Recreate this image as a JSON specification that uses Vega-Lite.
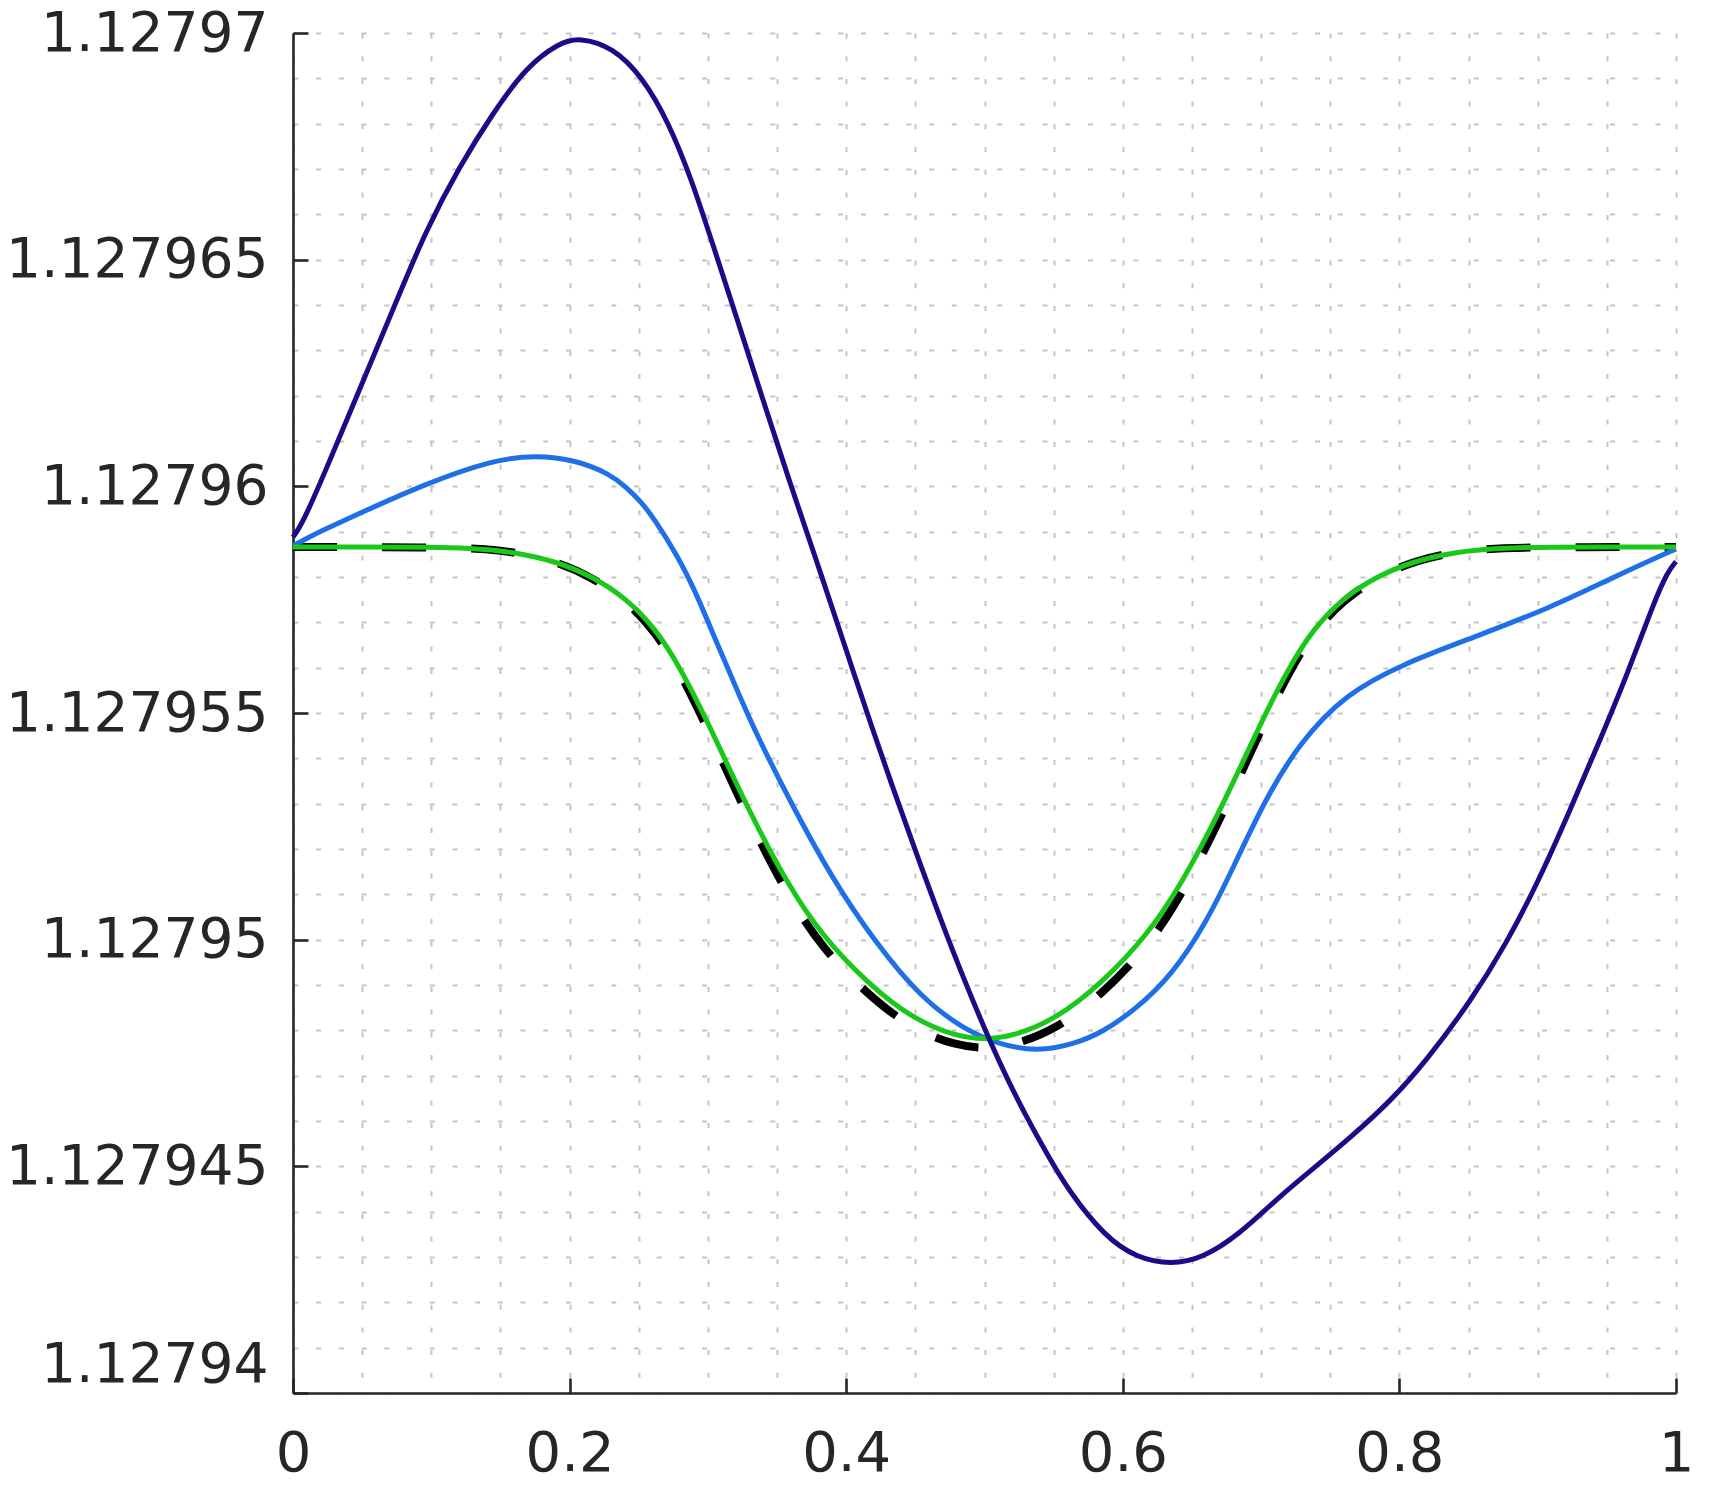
{
  "$schema": "https://vega.github.io/schema/vega-lite/v6.json",
  "width": 1383,
  "height": 1360,
  "autosize": {"type": "none"},
  "padding": {"left": 293, "top": 33, "right": 34, "bottom": 101},
  "background": "white",
  "config": {
    "view": {"stroke": null},
    "font": "DejaVu Sans"
  },
  "data": {
    "values": [
      {"series": "s1", "x": 0, "y": 1.12795888},
      {"series": "s1", "x": 0.0069, "y": 1.12795918},
      {"series": "s1", "x": 0.0238, "y": 1.12796036},
      {"series": "s1", "x": 0.0479, "y": 1.12796212},
      {"series": "s1", "x": 0.072, "y": 1.12796388},
      {"series": "s1", "x": 0.0961, "y": 1.12796565},
      {"series": "s1", "x": 0.1202, "y": 1.12796705},
      {"series": "s1", "x": 0.1443, "y": 1.12796822},
      {"series": "s1", "x": 0.1684, "y": 1.12796925},
      {"series": "s1", "x": 0.1928, "y": 1.12796979},
      {"series": "s1", "x": 0.207, "y": 1.1279699},
      {"series": "s1", "x": 0.2311, "y": 1.12796969},
      {"series": "s1", "x": 0.2528, "y": 1.12796903},
      {"series": "s1", "x": 0.2721, "y": 1.127968},
      {"series": "s1", "x": 0.289, "y": 1.1279667},
      {"series": "s1", "x": 0.3034, "y": 1.12796535},
      {"series": "s1", "x": 0.321, "y": 1.1279637},
      {"series": "s1", "x": 0.34, "y": 1.12796189},
      {"series": "s1", "x": 0.359, "y": 1.1279601},
      {"series": "s1", "x": 0.379, "y": 1.12795832},
      {"series": "s1", "x": 0.3977, "y": 1.1279566},
      {"series": "s1", "x": 0.4193, "y": 1.12795461},
      {"series": "s1", "x": 0.4363, "y": 1.12795313},
      {"series": "s1", "x": 0.4555, "y": 1.1279515},
      {"series": "s1", "x": 0.4748, "y": 1.12794992},
      {"series": "s1", "x": 0.4917, "y": 1.12794864},
      {"series": "s1", "x": 0.5037, "y": 1.12794778},
      {"series": "s1", "x": 0.5158, "y": 1.12794697},
      {"series": "s1", "x": 0.5303, "y": 1.12794609},
      {"series": "s1", "x": 0.545, "y": 1.12794528},
      {"series": "s1", "x": 0.561, "y": 1.12794445},
      {"series": "s1", "x": 0.587, "y": 1.12794345},
      {"series": "s1", "x": 0.61, "y": 1.12794298},
      {"series": "s1", "x": 0.635, "y": 1.12794283},
      {"series": "s1", "x": 0.658, "y": 1.12794298},
      {"series": "s1", "x": 0.684, "y": 1.12794349},
      {"series": "s1", "x": 0.713, "y": 1.12794433},
      {"series": "s1", "x": 0.742, "y": 1.12794506},
      {"series": "s1", "x": 0.764, "y": 1.12794562},
      {"series": "s1", "x": 0.794, "y": 1.12794645},
      {"series": "s1", "x": 0.819, "y": 1.12794731},
      {"series": "s1", "x": 0.852, "y": 1.12794866},
      {"series": "s1", "x": 0.877, "y": 1.1279499},
      {"series": "s1", "x": 0.9, "y": 1.12795125},
      {"series": "s1", "x": 0.923, "y": 1.12795283},
      {"series": "s1", "x": 0.945, "y": 1.1279544},
      {"series": "s1", "x": 0.965, "y": 1.12795587},
      {"series": "s1", "x": 0.984, "y": 1.12795744},
      {"series": "s1", "x": 0.994, "y": 1.12795812},
      {"series": "s1", "x": 1.0, "y": 1.12795834},

      {"series": "s2", "x": 0, "y": 1.12795869},
      {"series": "s2", "x": 0.0105, "y": 1.12795886},
      {"series": "s2", "x": 0.0214, "y": 1.12795903},
      {"series": "s2", "x": 0.0479, "y": 1.1279594},
      {"series": "s2", "x": 0.0961, "y": 1.12796006},
      {"series": "s2", "x": 0.1443, "y": 1.12796058},
      {"series": "s2", "x": 0.1757, "y": 1.12796069},
      {"series": "s2", "x": 0.2046, "y": 1.12796058},
      {"series": "s2", "x": 0.2287, "y": 1.12796028},
      {"series": "s2", "x": 0.241, "y": 1.12795998},
      {"series": "s2", "x": 0.2528, "y": 1.12795962},
      {"series": "s2", "x": 0.2602, "y": 1.12795932},
      {"series": "s2", "x": 0.2772, "y": 1.12795852},
      {"series": "s2", "x": 0.2916, "y": 1.12795764},
      {"series": "s2", "x": 0.3036, "y": 1.12795675},
      {"series": "s2", "x": 0.3181, "y": 1.12795572},
      {"series": "s2", "x": 0.3326, "y": 1.12795469},
      {"series": "s2", "x": 0.357, "y": 1.12795319},
      {"series": "s2", "x": 0.39, "y": 1.12795133},
      {"series": "s2", "x": 0.422, "y": 1.1279499},
      {"series": "s2", "x": 0.454, "y": 1.12794872},
      {"series": "s2", "x": 0.486, "y": 1.127948},
      {"series": "s2", "x": 0.512, "y": 1.12794768},
      {"series": "s2", "x": 0.538, "y": 1.12794753},
      {"series": "s2", "x": 0.565, "y": 1.1279477},
      {"series": "s2", "x": 0.585, "y": 1.12794795},
      {"series": "s2", "x": 0.61, "y": 1.12794848},
      {"series": "s2", "x": 0.635, "y": 1.1279492},
      {"series": "s2", "x": 0.66, "y": 1.12795035},
      {"series": "s2", "x": 0.68, "y": 1.1279516},
      {"series": "s2", "x": 0.703, "y": 1.1279531},
      {"series": "s2", "x": 0.728, "y": 1.12795435},
      {"series": "s2", "x": 0.761, "y": 1.12795542},
      {"series": "s2", "x": 0.803, "y": 1.12795609},
      {"series": "s2", "x": 0.852, "y": 1.12795665},
      {"series": "s2", "x": 0.91, "y": 1.12795733},
      {"series": "s2", "x": 0.955, "y": 1.127958},
      {"series": "s2", "x": 1.0, "y": 1.12795862},

      {"series": "s3", "x": 0, "y": 1.12795866},
      {"series": "s3", "x": 0.05, "y": 1.12795866},
      {"series": "s3", "x": 0.1, "y": 1.12795866},
      {"series": "s3", "x": 0.127, "y": 1.12795864},
      {"series": "s3", "x": 0.159, "y": 1.12795856},
      {"series": "s3", "x": 0.191, "y": 1.12795834},
      {"series": "s3", "x": 0.217, "y": 1.127958},
      {"series": "s3", "x": 0.24, "y": 1.12795755},
      {"series": "s3", "x": 0.262, "y": 1.12795687},
      {"series": "s3", "x": 0.28, "y": 1.127956},
      {"series": "s3", "x": 0.3, "y": 1.1279548},
      {"series": "s3", "x": 0.328, "y": 1.12795294},
      {"series": "s3", "x": 0.357, "y": 1.12795125},
      {"series": "s3", "x": 0.383, "y": 1.12795007},
      {"series": "s3", "x": 0.415, "y": 1.12794905},
      {"series": "s3", "x": 0.448, "y": 1.12794825},
      {"series": "s3", "x": 0.48, "y": 1.12794786},
      {"series": "s3", "x": 0.5, "y": 1.1279478},
      {"series": "s3", "x": 0.52, "y": 1.12794786},
      {"series": "s3", "x": 0.552, "y": 1.12794825},
      {"series": "s3", "x": 0.585, "y": 1.12794905},
      {"series": "s3", "x": 0.617, "y": 1.12795007},
      {"series": "s3", "x": 0.643, "y": 1.12795125},
      {"series": "s3", "x": 0.672, "y": 1.12795294},
      {"series": "s3", "x": 0.7, "y": 1.1279548},
      {"series": "s3", "x": 0.72, "y": 1.127956},
      {"series": "s3", "x": 0.738, "y": 1.12795687},
      {"series": "s3", "x": 0.76, "y": 1.12795755},
      {"series": "s3", "x": 0.783, "y": 1.127958},
      {"series": "s3", "x": 0.809, "y": 1.12795834},
      {"series": "s3", "x": 0.841, "y": 1.12795856},
      {"series": "s3", "x": 0.873, "y": 1.12795864},
      {"series": "s3", "x": 0.9, "y": 1.12795866},
      {"series": "s3", "x": 1.0, "y": 1.12795866},

      {"series": "exact", "x": 0, "y": 1.12795866},
      {"series": "exact", "x": 0.1, "y": 1.12795866},
      {"series": "exact", "x": 0.15, "y": 1.12795862},
      {"series": "exact", "x": 0.19, "y": 1.12795836},
      {"series": "exact", "x": 0.217, "y": 1.12795798},
      {"series": "exact", "x": 0.24, "y": 1.1279575},
      {"series": "exact", "x": 0.262, "y": 1.1279568},
      {"series": "exact", "x": 0.28, "y": 1.1279559},
      {"series": "exact", "x": 0.3, "y": 1.12795465},
      {"series": "exact", "x": 0.328, "y": 1.12795275},
      {"series": "exact", "x": 0.357, "y": 1.127951},
      {"series": "exact", "x": 0.383, "y": 1.1279498},
      {"series": "exact", "x": 0.415, "y": 1.1279488},
      {"series": "exact", "x": 0.448, "y": 1.12794802},
      {"series": "exact", "x": 0.48, "y": 1.12794766},
      {"series": "exact", "x": 0.5, "y": 1.1279476},
      {"series": "exact", "x": 0.52, "y": 1.12794766},
      {"series": "exact", "x": 0.552, "y": 1.12794802},
      {"series": "exact", "x": 0.585, "y": 1.1279488},
      {"series": "exact", "x": 0.617, "y": 1.1279498},
      {"series": "exact", "x": 0.643, "y": 1.127951},
      {"series": "exact", "x": 0.672, "y": 1.12795275},
      {"series": "exact", "x": 0.7, "y": 1.12795465},
      {"series": "exact", "x": 0.72, "y": 1.1279559},
      {"series": "exact", "x": 0.738, "y": 1.1279568},
      {"series": "exact", "x": 0.76, "y": 1.1279575},
      {"series": "exact", "x": 0.783, "y": 1.12795798},
      {"series": "exact", "x": 0.81, "y": 1.12795836},
      {"series": "exact", "x": 0.85, "y": 1.12795862},
      {"series": "exact", "x": 0.9, "y": 1.12795866},
      {"series": "exact", "x": 1.0, "y": 1.12795866}
    ]
  },
  "encoding": {
    "x": {
      "field": "x",
      "type": "quantitative",
      "scale": {"domain": [0, 1], "nice": false, "zero": false},
      "axis": {
        "title": null,
        "values": [0, 0.05, 0.1, 0.15, 0.2, 0.25, 0.3, 0.35, 0.4, 0.45, 0.5, 0.55, 0.6, 0.65, 0.7, 0.75, 0.8, 0.85, 0.9, 0.95, 1],
        "labelExpr": "abs(datum.value*5 - round(datum.value*5)) < 0.001 ? format(datum.value, '~g') : ''",
        "labelOverlap": false,
        "labelFlush": false,
        "labelBound": false,
        "labelLimit": 1000,
        "labelFont": "DejaVu Sans",
        "labelFontSize": 56,
        "labelColor": "#262626",
        "labelBaseline": "top",
        "labelAlign": "center",
        "labelPadding": 48,
        "grid": true,
        "gridColor": "#c4c4c4",
        "gridWidth": 2,
        "gridDash": [5, 17.7],
        "domain": true,
        "domainColor": "#262626",
        "domainWidth": 2.6,
        "ticks": true,
        "tickSize": -15,
        "tickWidth": 2.6,
        "tickColor": "#262626",
        "tickOpacity": {"condition": {"test": "abs(datum.value*5 - round(datum.value*5)) < 0.001", "value": 1}, "value": 0}
      }
    },
    "y": {
      "field": "y",
      "type": "quantitative",
      "scale": {"domain": [1.12794, 1.12797], "nice": false, "zero": false},
      "axis": {
        "title": null,
        "values": [1.12794, 1.127941, 1.127942, 1.127943, 1.127944, 1.127945, 1.127946, 1.127947, 1.127948, 1.127949, 1.12795, 1.127951, 1.127952, 1.127953, 1.127954, 1.127955, 1.127956, 1.127957, 1.127958, 1.127959, 1.12796, 1.127961, 1.127962, 1.127963, 1.127964, 1.127965, 1.127966, 1.127967, 1.127968, 1.127969, 1.12797],
        "labelExpr": "abs(datum.value*2e5 - round(datum.value*2e5)) < 0.01 ? format(datum.value, '.6~f') : ''",
        "labelOverlap": false,
        "labelFlush": false,
        "labelBound": false,
        "labelLimit": 1000,
        "labelFont": "DejaVu Sans",
        "labelFontSize": 55,
        "labelColor": "#262626",
        "labelAlign": "right",
        "labelBaseline": {"condition": {"test": "datum.value < 1.1279405", "value": "alphabetic"}, "value": "middle"},
        "labelOffset": {"condition": {"test": "datum.value < 1.1279405", "value": -12}, "value": 0},
        "labelPadding": 40,
        "grid": true,
        "gridColor": "#c4c4c4",
        "gridWidth": 2,
        "gridDash": [5, 17.7],
        "domain": true,
        "domainColor": "#262626",
        "domainWidth": 2.6,
        "ticks": true,
        "tickSize": -15,
        "tickWidth": 2.6,
        "tickColor": "#262626",
        "tickOpacity": {"condition": {"test": "abs(datum.value*2e5 - round(datum.value*2e5)) < 0.01", "value": 1}, "value": 0}
      }
    }
  },
  "layer": [
    {
      "transform": [{"filter": "datum.series === 'exact'"}],
      "mark": {"type": "line", "color": "#000000", "strokeWidth": 8, "strokeDash": [44, 45], "interpolate": "basis", "strokeCap": "butt"}
    },
    {
      "transform": [{"filter": "datum.series === 's2'"}],
      "mark": {"type": "line", "color": "#1f6fe6", "strokeWidth": 5, "interpolate": "basis"}
    },
    {
      "transform": [{"filter": "datum.series === 's3'"}],
      "mark": {"type": "line", "color": "#19c819", "strokeWidth": 5, "interpolate": "basis"}
    },
    {
      "transform": [{"filter": "datum.series === 's1'"}],
      "mark": {"type": "line", "color": "#1c0b86", "strokeWidth": 5, "interpolate": "basis"}
    }
  ]
}
